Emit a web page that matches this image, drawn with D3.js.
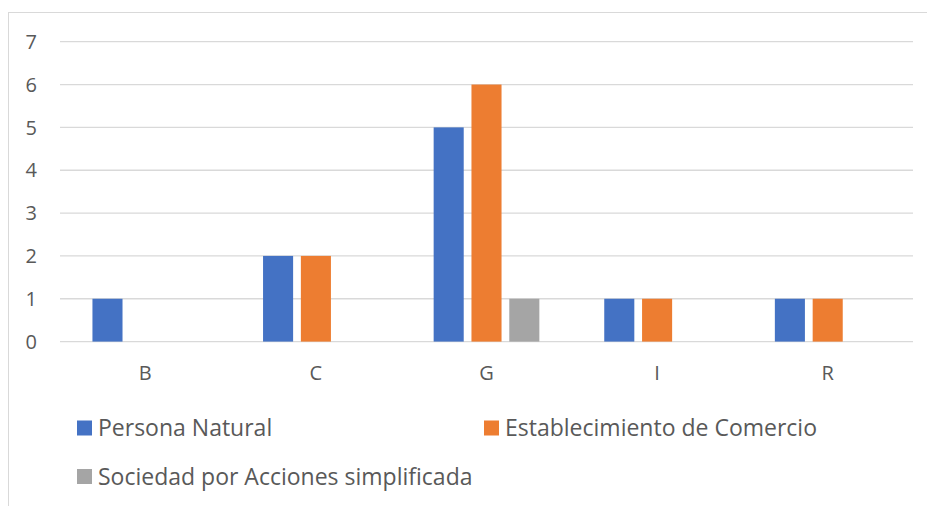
<!DOCTYPE html>
<html>
<head>
<meta charset="utf-8">
<script src="https://cdn.jsdelivr.net/npm/d3@7"></script>
<style>
  body { margin: 0; background: #fff; }
  text { font-family: "Open Sans", Lato, sans-serif; fill: #595959; }
</style>
</head>
<body>
<div id="chart"></div>
<script>
// data
const categories = ['B', 'C', 'G', 'I', 'R'];
const series = ['Persona Natural', 'Establecimiento de Comercio', 'Sociedad por Acciones simplificada'];
const personaNatural = [1, 2, 5, 1, 1];
const establecimiento = [0, 2, 6, 1, 1];
const sociedad = [0, 0, 1, 0, 0];
const yTicks = [0, 1, 2, 3, 4, 5, 6, 7];
const colors = ['#4472C4', '#ED7D31', '#A5A5A5'];

const values = [personaNatural, establecimiento, sociedad];

// =============================================
const W = 927, H = 506;
const plotL = 60, plotR = 913, plotT = 41.7, plotB = 341.6;

let svg = d3.select('#chart')
            .append('svg')
            .attr('width', W)
            .attr('height', H);

// chart border
svg.append('rect')
   .attr('x', 8.5).attr('y', 12.5)
   .attr('width', 940).attr('height', 520)
   .attr('fill', 'none')
   .attr('stroke', '#D9D9D9')
   .attr('stroke-width', 1);

let y = d3.scaleLinear().domain([0, 7]).range([plotB, plotT]);
let x0 = d3.scaleBand().domain(categories).range([plotL, plotR]).padding(0);
let groupW = 105.7;
let x1 = d3.scaleBand().domain(series).range([0, groupW]).paddingInner(0.205);

// gridlines
svg.append('g')
   .selectAll('line')
   .data(yTicks)
   .enter()
   .append('line')
   .attr('x1', plotL).attr('x2', plotR)
   .attr('y1', d => y(d)).attr('y2', d => y(d))
   .attr('stroke', '#D9D9D9')
   .attr('stroke-width', 1.3);

// y tick labels
svg.append('g')
   .selectAll('text')
   .data(yTicks)
   .enter()
   .append('text')
   .attr('x', 37)
   .attr('y', d => y(d))
   .attr('dy', '0.36em')
   .attr('text-anchor', 'end')
   .style('font-size', '20px')
   .text(d => d);

// x labels
svg.append('g')
   .selectAll('text')
   .data(categories)
   .enter()
   .append('text')
   .attr('x', d => x0(d) + x0.bandwidth() / 2)
   .attr('y', 373)
   .attr('dy', '0.36em')
   .attr('text-anchor', 'middle')
   .style('font-size', '20px')
   .text(d => d);

// bars
let offset = (x0.bandwidth() - groupW) / 2;
series.forEach(function(s, si) {
  svg.append('g')
     .selectAll('rect')
     .data(categories.map((c, i) => ({ c: c, v: values[si][i] })).filter(d => d.v > 0))
     .enter()
     .append('rect')
     .attr('x', d => x0(d.c) + offset + x1(s))
     .attr('y', d => y(d.v))
     .attr('width', x1.bandwidth())
     .attr('height', d => y(0) - y(d.v))
     .attr('fill', colors[si]);
});

// legend
const legendPos = [[77, 428], [484, 428], [77, 476.5]];
let legend = svg.append('g');
series.forEach(function(s, i) {
  legend.append('rect')
        .attr('x', legendPos[i][0])
        .attr('y', legendPos[i][1] - 7.5)
        .attr('width', 15).attr('height', 15)
        .attr('fill', colors[i]);
  legend.append('text')
        .attr('x', legendPos[i][0] + 21)
        .attr('y', legendPos[i][1])
        .attr('dy', '0.36em')
        .style('font-size', '23px')
        .text(s);
});
</script>
</body>
</html>
